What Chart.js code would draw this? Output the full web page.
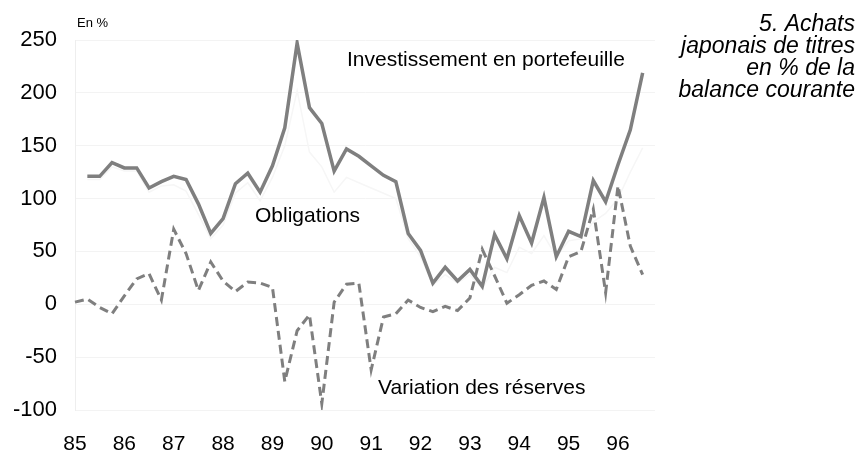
<!DOCTYPE html>
<html>
<head>
<meta charset="utf-8">
<script src="https://cdn.jsdelivr.net/npm/chart.js@4/dist/chart.umd.min.js"></script>
<style>
  body { margin: 0; background: #fff; }
  #wrap { width: 859px; height: 452px; }
</style>
</head>
<body>
<div id="wrap"><canvas id="chart" width="859" height="452"></canvas></div>
<script>
// years on the x axis, one label per year, data is quarterly
const years = ['85', '86', '87', '88', '89', '90', '91', '92', '93', '94', '95', '96'];

// Investissement en portefeuille (starts one quarter later)
const portefeuille = [null, 121, 121, 134, 129, 129, 110, 116, 121, 118, 95,
    67, 81, 114, 124, 106, 131, 167, 247, 186, 171,
    126, 147, 140, 131, 122, 116, 67, 51, 20, 35,
    22, 33, 17, 66, 43, 84, 58, 101, 45, 69,
    64, 117, 97, 132, 165, 219];

// Variation des réserves
const reserves = [2, 5, -3, -9, 8, 24, 29, 4, 71, 48, 13,
    40, 22, 12, 21, 20, 16, -73, -25, -10, -94,
    2, 19, 20, -62, -12, -9, 4, -3, -7, -2,
    -6, 6, 52, 27, 1, 9, 18, 22, 14, 45,
    50, 90, 11, 112, 55, 28];

// Obligations (very pale line in the original)
const obligations = [null, 118, 118, 130, 126, 126, 106, 112, 113, 107, 85,
    62, 75, 105, 115, 98, 120, 150, 202, 144, 130,
    106, 120, 115, 110, 105, 100, 62, 45, 18, 28,
    20, 28, 15, 35, 30, 54, 48, 65, 45, 60,
    62, 78, 86, 100, 125, 148];

const yTicks = [-100, -50, 0, 50, 100, 150, 200, 250];

// quarterly labels: year label on Q1, blanks for the rest
const labels = [];
years.forEach(function (y) {
    labels.push(y, '', '', '');
});

const FONT = '"Liberation Sans", Arial, sans-serif';
const GREY = '#7f7f7f';

const textPlugin = {
    id: 'texts',
    afterDraw: function (chart) {
        const ctx = chart.ctx;
        ctx.save();
        ctx.fillStyle = '#000';
        ctx.textBaseline = 'alphabetic';
        ctx.textAlign = 'left';
        ctx.font = '13px ' + FONT;
        ctx.fillText('En %', 77, 27);
        ctx.font = '21px ' + FONT;
        ctx.fillText('Investissement en portefeuille', 347, 66);
        ctx.fillText('Obligations', 255, 222);
        ctx.fillText('Variation des réserves', 378, 394);
        ctx.textAlign = 'right';
        ctx.font = 'italic 23px ' + FONT;
        ['5. Achats', 'japonais de titres', 'en % de la', 'balance courante'].forEach(function (t, i) {
            ctx.fillText(t, 855, 31 + i * 22);
        });
        ctx.restore();
    }
};

const ctx = document.getElementById('chart').getContext('2d');
const chart = new Chart(ctx, {
    type: 'line',
    data: {
        labels: labels,
        datasets: [{
            label: 'Investissement en portefeuille',
            data: portefeuille,
            borderColor: GREY,
            borderWidth: 3.5,
            order: 1
        }, {
            label: 'Variation des réserves',
            data: reserves,
            borderColor: GREY,
            borderWidth: 3,
            borderDash: [9, 5],
            order: 2
        }, {
            label: 'Obligations',
            data: obligations,
            borderColor: '#f6f6f6',
            borderWidth: 1.5,
            order: 3
        }]
    },
    options: {
        responsive: false,
        animation: false,
        layout: {
            padding: { top: 40, right: 204, left: 0, bottom: 0 }
        },
        elements: {
            point: { radius: 0 },
            line: { tension: 0, borderCapStyle: 'butt', borderJoinStyle: 'miter' }
        },
        scales: {
            x: {
                type: 'category',
                offset: false,
                grid: { display: false },
                border: { display: false },
                ticks: {
                    autoSkip: false,
                    maxRotation: 0,
                    padding: 14,
                    color: '#000',
                    font: { family: FONT, size: 21 },
                    callback: function (v, i) { return labels[i]; }
                },
                afterFit: function (s) { s.height = 42; }
            },
            y: {
                min: -100,
                max: 250,
                grid: { color: '#f3f3f3', lineWidth: 1, drawTicks: false },
                border: { display: true, color: '#eeeeee' },
                ticks: {
                    padding: 18,
                    color: '#000',
                    font: { family: FONT, size: 22 }
                },
                afterBuildTicks: function (s) {
                    s.ticks = yTicks.map(function (v) { return { value: v }; });
                },
                afterFit: function (s) { s.width = 75; }
            }
        },
        plugins: {
            legend: { display: false },
            tooltip: { enabled: false }
        }
    },
    plugins: [textPlugin]
});
</script>
</body>
</html>
